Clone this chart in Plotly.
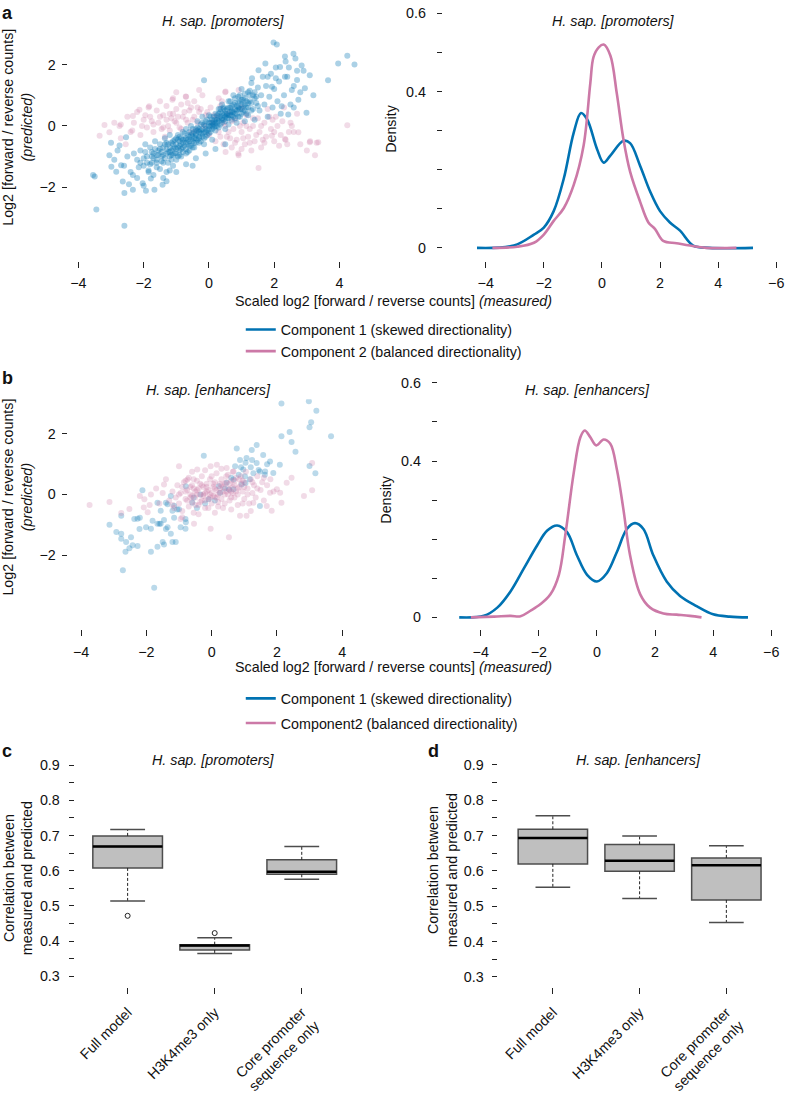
import plotly.graph_objects as go

W, H = 787, 1094
def px(x): return x / W
def py(y): return 1 - y / H

BLUE = "#0072B2"
PINK = "#CC79A7"
FONT = "Liberation Sans, Arial, Helvetica, sans-serif"
TXT = "#111111"
FS = 14.3

# ---------------- data: panel a scatter (promoters) ----------------
prom_blue = [
    (-3.55,-1.6),(-3.5,-1.65),(-3.45,-2.72),(-2.59,-3.25),(-2.59,-2.19),(-2.33,-2.08),(-1.93,-2.11),
    (-1.67,-2.08),(-1.42,-1.92),(-2.03,-1.87),(-2.64,-1.81),(-2.84,-1.49),(-2.99,-1.33),(-3.05,-0.96),
    (-2.69,-1.28),(-2.33,-1.6),(-1.78,-1.71),(-2.74,-0.64),(-2.54,-0.37),(-2.9,-1.1),(-2.8,-0.8),
    (-2.45,-1.9),(-2.2,-1.7),(-2.0,-1.95),(-1.7,-1.6),(-1.3,-1.8),(-1.0,-1.5),(-1.4,-1.7),(-0.7,-1.25),
    (-0.4,-1.05),(-0.1,-0.9),(-0.5,-1.3),(-2.5,-1.0),(-2.4,-1.5),(-2.3,-0.9),(-2.6,-1.3),(-2.15,-1.35),
    (-1.85,-1.45),(-1.6,-1.35),(-1.2,-1.45),(0.2,-0.75),(0.5,-0.6),(-3.0,-0.55),
    (-2.2,-1.1),(-2.1,-0.8),(-2.0,-1.3),(-1.95,-0.6),(-1.9,-1.0),(-1.85,-1.5),(-1.8,-0.7),(-1.75,-1.2),
    (-1.7,-0.9),(-1.65,-0.5),(-1.6,-1.1),(-1.55,-0.8),(-1.5,-1.4),(-1.5,-0.6),(-1.45,-1.0),(-1.4,-0.7),
    (-1.4,-1.2),(-1.35,-0.4),(-1.3,-0.9),(-1.3,-1.5),(-1.25,-0.6),(-1.2,-1.0),(-1.2,-0.3),(-1.15,-0.8),
    (-1.1,-1.3),(-1.1,-0.5),(-1.05,-0.9),(-1.0,-0.6),(-1.0,-1.1),(-0.95,-0.3),(-0.9,-0.8),(-0.9,-0.5),
    (-0.85,-1.0),(-0.8,-0.2),(-0.8,-0.7),(-0.75,-0.45),(-0.7,-0.9),(-0.7,-0.1),(-0.65,-0.6),(-0.6,-0.35),
    (-0.6,-0.8),(-0.55,0.0),(-0.5,-0.5),(-0.5,-0.25),(-0.45,-0.7),(-0.4,-0.1),(-0.4,-0.4),(-0.35,0.15),
    (-0.3,-0.55),(-0.3,-0.2),(-0.25,0.05),(-0.2,-0.35),(-0.2,0.3),(-0.15,-0.6),(-0.1,-0.1),(-0.1,0.15),
    (-0.05,-0.3),(0.0,0.0),(0.0,0.35),(0.05,-0.2),(0.1,0.2),(0.1,-0.45),(0.15,0.05),(0.2,0.4),(0.2,-0.15),
    (0.25,0.2),(0.3,0.55),(0.3,-0.05),(0.35,0.3),(0.4,0.1),(0.4,0.7),(0.45,0.35),(0.5,-0.1),(0.5,0.5),
    (0.55,0.25),(0.6,0.8),(0.6,0.05),(0.65,0.45),(0.7,0.65),(0.7,0.2),(0.75,1.0),(0.8,0.4),(0.8,0.75),
    (0.85,0.1),(0.9,0.55),(0.9,0.95),(0.95,0.3),(1.0,0.7),(1.0,1.2),(1.05,0.45),(1.1,0.9),(1.1,0.15),
    (1.15,0.6),(1.2,1.1),(1.2,0.35),(1.25,0.8),(1.3,1.4),(1.3,0.5),(1.35,1.0),(1.4,0.2),(1.45,0.75),
    (1.5,1.25),(1.55,0.5),(1.6,1.0),(1.65,1.6),(1.7,0.7),(1.75,1.3),(1.8,0.3),(1.85,0.95),(1.9,1.7),
    (1.95,0.6),(2.0,1.2),(2.05,1.9),(2.1,0.8),(2.15,1.45),(2.2,0.4),(2.3,1.0),(2.35,2.1),(2.4,1.6),
    (2.5,0.7),(2.6,1.3),(2.65,2.2),(2.7,1.8),(2.8,1.1),
    (-1.2,-0.7),(-1.0,-0.75),(-0.8,-0.55),(-0.6,-0.5),(-0.4,-0.3),(-0.3,-0.35),(-0.1,-0.2),(0.1,0.0),
    (0.3,0.15),(0.5,0.3),(0.7,0.45),(0.9,0.6),(1.1,0.7),(-0.9,-0.65),(-0.7,-0.4),(-0.5,-0.35),
    (-0.2,-0.1),(0.0,-0.1),(0.2,0.1),(0.4,0.25),(0.6,0.35),(0.8,0.55),(1.0,0.55),(1.2,0.75),
    (-1.1,-0.6),(-1.3,-0.75),(-0.95,-0.45),(-0.25,-0.25),(0.15,0.15),(0.55,0.4),(0.85,0.5),(1.05,0.85),
    (-1.45,-0.85),(-1.15,-0.95),(-0.85,-0.75),(-0.65,-0.3),(-0.45,-0.55),(-0.15,-0.4),(0.05,0.1),
    (0.35,0.45),(0.65,0.6),(0.95,0.8),(1.25,1.0),(1.4,0.9),(-1.6,-0.95),(-1.75,-1.0),(-0.35,-0.15),
    (0.25,0.0),(0.75,0.3),(1.15,0.4),(-0.55,-0.65),(0.45,0.55),
    (-1.6,-1.2),(-1.55,-0.95),(-1.5,-0.75),(-1.45,-1.15),(-1.4,-0.95),(-1.35,-0.6),(-1.35,-1.05),
    (-1.3,-0.55),(-1.25,-0.85),(-1.25,-1.2),(-1.2,-0.85),(-1.15,-0.55),(-1.15,-1.1),(-1.1,-0.75),
    (-1.1,-0.95),(-1.05,-0.45),(-1.05,-0.7),(-1.0,-0.9),(-1.0,-0.4),(-0.95,-0.7),(-0.95,-1.0),
    (-0.9,-0.35),(-0.9,-0.95),(-0.85,-0.6),(-0.85,-0.4),(-0.8,-0.85),(-0.8,-0.45),(-0.75,-0.65),
    (-0.75,-0.25),(-0.7,-0.55),(-0.7,-0.75),(-0.65,-0.45),(-0.65,-0.85),(-0.6,-0.2),(-0.6,-0.65),
    (-0.55,-0.45),(-0.55,-0.3),(-0.5,-0.7),(-0.5,-0.1),(-0.45,-0.4),(-0.45,-0.2),(-0.4,-0.55),
    (-0.4,-0.25),(-0.35,-0.45),(-0.35,-0.05),(-0.3,-0.4),(-0.3,-0.1),(-0.25,-0.5),(-0.25,-0.15),
    (-0.2,-0.25),(-0.2,0.1),(-0.15,-0.2),(-0.15,0.05),(-0.1,-0.35),(-0.1,0.0),(-0.05,-0.15),(-0.05,0.2),
    (0.0,-0.25),(0.0,0.1),(0.05,0.0),(0.05,0.3),(0.1,-0.1),(0.1,0.1),(0.15,0.3),(0.15,-0.05),(0.2,0.2),
    (0.2,0.0),(0.25,0.35),(0.25,0.1),(0.3,0.25),(0.3,0.4),(0.35,0.05),(0.35,0.55),(0.4,0.4),(0.4,0.2),
    (0.45,0.6),(0.45,0.2),(0.5,0.4),(0.5,0.15),(0.55,0.55),(0.55,0.35),(0.6,0.25),(0.6,0.6),(0.65,0.35),
    (0.65,0.8),(0.7,0.5),(0.7,0.35),(0.75,0.7),(0.75,0.45),(0.8,0.25),(0.8,0.9),(0.85,0.65),(0.85,0.4),
    (0.9,0.75),(0.9,0.3),(0.95,0.55),(0.95,1.0),(1.0,0.85),(1.0,0.4),(1.05,0.65),(1.1,1.05),(1.1,0.5),
    (1.15,0.8),(1.2,0.6),(1.25,1.15),(1.3,0.75),(1.35,0.55),(1.4,1.1),(1.45,0.95),(1.5,0.65),
    (-1.8,-1.25),(-1.7,-1.05),(-1.65,-0.75),(-1.9,-1.2),(-2.0,-1.05),(-1.75,-0.85),(-2.1,-1.2),(-1.95,-0.85),
    (1.98,2.72),(2.08,2.65),(2.33,2.26),(2.59,2.35),(2.84,1.97),(3.09,1.65),(3.96,2.03),(4.24,2.29),
    (4.46,2.0),(3.65,1.49),(2.94,1.23),(2.74,0.85),(2.99,0.43),(2.43,0.37),(2.23,0.64),(2.54,1.17),
    (2.33,1.6),(2.18,1.92),(1.73,2.03),(1.52,1.81),(1.32,1.55),(1.93,1.28),(-0.15,1.49),(2.7,1.5),
    (2.45,1.9),(2.05,1.55),(1.8,1.6),(2.6,0.6),(3.2,1.0),(2.9,1.8),
]
prom_pink = [
    (-3.35,-0.32),(-3.2,0.03),(-3.05,-0.21),(-2.74,0.0),(-2.33,0.32),(-2.13,0.53),(-1.83,0.64),
    (-1.12,0.85),(-0.71,0.96),(-0.3,1.17),(0.51,1.12),(0.91,1.17),(4.24,0.02),(3.25,-0.96),(3.35,-0.53),
    (3.09,-0.53),(2.54,0.0),(2.74,-0.21),(2.33,-0.43),(1.93,-0.32),(1.52,-1.37),(0.91,-0.96),(0.51,-0.85),
    (-2.9,0.1),(-2.7,-0.4),(-2.7,0.05),(-2.5,0.3),(-2.4,-0.2),(-2.3,0.1),(-2.2,0.45),(-2.1,-0.3),
    (-2.0,0.2),(-1.9,-0.05),(-1.85,0.6),(-1.8,0.3),(-1.7,-0.2),(-1.6,0.5),(-1.55,0.1),(-1.5,0.8),
    (-1.45,-0.1),(-1.4,0.35),(-1.3,0.65),(-1.25,0.0),(-1.2,0.4),(-1.1,0.9),(-1.05,0.15),(-1.0,0.55),
    (-0.9,-0.05),(-0.85,0.7),(-0.8,0.3),(-0.7,0.95),(-0.65,0.1),(-0.6,0.5),(-0.5,0.2),(-0.45,0.8),
    (-0.4,-0.15),(-0.3,0.45),(-0.2,1.0),(-0.15,0.0),(-0.1,0.35),(0.0,-0.3),(0.05,0.6),(0.1,0.1),
    (0.2,-0.5),(0.25,0.3),(0.3,-0.2),(0.4,0.8),(0.45,-0.6),(0.5,0.0),(0.55,-0.35),(0.6,0.4),(0.7,-0.7),
    (0.75,-0.1),(0.8,0.2),(0.85,-0.45),(0.9,-0.9),(1.0,-0.2),(1.05,0.1),(1.1,-0.6),(1.15,0.35),
    (1.2,-0.35),(1.3,-0.8),(1.35,0.0),(1.4,-0.5),(1.5,0.25),(1.55,-0.2),(1.6,-0.7),(1.7,0.1),
    (1.75,-0.35),(1.8,0.55),(1.9,-0.1),(2.0,-0.5),(2.05,0.3),(2.1,0.0),(2.2,-0.3),(2.3,0.6),
    (2.35,-0.45),(2.5,0.1),(2.6,-0.2),(2.7,0.4),(2.8,-0.6),(3.0,-0.8),(3.1,-0.5),(3.3,-0.55),
    (-1.0,1.1),(0.5,1.1),(-2.55,-0.6),(-1.35,-0.35),(-0.55,-0.2),(0.65,-0.4),(1.25,-0.1),(1.65,-0.45),
    (2.15,-0.65),(-1.75,0.15),(-1.15,0.25),(-0.35,0.6),(0.35,0.65),(1.95,0.2),(2.45,-0.2),(1.0,-0.75),
    (-1.7,0.05),(-1.5,0.3),(-1.4,-0.05),(-1.3,0.2),(-1.2,-0.15),(-1.1,0.4),(-1.0,0.1),(-0.95,0.3),
    (-0.85,-0.1),(-0.75,0.45),(-0.7,0.2),(-0.55,0.6),(-0.45,0.3),(-0.35,0.1),(-0.25,0.55),(-0.05,0.45),
    (0.15,0.35),(0.35,-0.35),(0.45,0.1),(0.6,-0.2),(0.7,0.15),(0.8,-0.55),(0.95,0.0),(1.05,-0.4),
    (1.15,0.0),(1.25,-0.55),(1.35,0.25),(1.45,-0.3),(1.6,0.0),(1.7,-0.55),(1.85,0.3),(2.0,-0.2),
    (2.25,0.15),(2.4,-0.6),(-2.05,0.0),(-2.35,-0.15),(-1.95,0.35),(1.0,0.6),(0.3,0.9),(-0.65,0.75),
]

# ---------------- data: panel b scatter (enhancers) ----------------
enh_blue = [
    (-2.12,0.14),(-2.77,-0.70),(-3.13,-1.0),(-2.2,-0.77),(-2.27,-0.8),(-1.81,-0.87),(-1.86,-1.13),
    (-1.66,-0.97),(-1.56,-0.97),(-1.46,-0.84),(-1.35,-1.08),(-1.25,-1.3),(-1.15,-0.77),(-1.05,-0.5),
    (-1.56,-0.54),(-1.66,-0.27),(-1.35,-0.32),(-1.15,-0.37),(-1.25,-0.05),(-0.8,-0.81),(-0.8,-1.13),
    (-0.95,-1.08),(-1.1,-1.57),(-1.46,-1.65),(-1.66,-1.73),(-1.86,-1.89),(-2.27,-1.7),(-2.52,-1.78),
    (-2.47,-1.41),(-2.77,-1.3),(-2.77,-1.46),(-2.42,-1.68),(-2.72,-2.5),(-1.76,-3.08),(-0.55,-0.1),
    (-0.34,0.0),(-0.09,-0.16),(0.26,0.06),(0.67,0.17),(0.72,0.93),(0.77,1.52),(0.97,0.82),(1.17,0.5),
    (1.38,1.04),(1.58,1.3),(1.79,1.09),(1.89,0.71),(2.09,0.98),(2.14,1.92),(2.39,2.06),(2.57,1.41),
    (2.45,1.73),(3.0,2.22),(3.05,2.38),(2.14,3.0),(2.98,3.08),(3.21,2.76),(3.66,1.92),(3.0,0.94),
    (3.18,0.7),(1.38,1.63),(1.23,1.47),(1.07,1.2),(0.87,1.14),(-0.24,1.28),(1.48,0.76),(0.92,0.33),
    (1.48,-0.38),(0.67,0.49),(0.46,0.39),(1.63,0.65),(1.28,0.7),(1.02,0.6),(-0.79,0.27),(-0.59,-0.27),
    (-1.0,-0.49),(-1.2,-0.54),(-1.4,-0.27),(-2.37,-0.81),(-2.92,-1.24),(-2.62,-1.57),(-2.64,-1.89),
    (-1.5,-1.57),(-1.2,-1.57),(-1.4,-1.14),(-1.6,-0.97),(-2.01,-1.08),(-2.21,-1.14),(-0.79,-0.92),
    (0.53,0.16),(0.22,0.27),(0.83,0.65),(1.04,0.38),(1.64,0.76),(1.44,0.81),(1.24,1.14),(1.04,1.05),
    (-0.2,-0.3),(0.1,-0.2),(0.4,0.2),(-0.45,-0.45),(0.6,0.55),(1.2,0.9),(1.7,1.0),(0.9,0.9),
]
enh_pink = [
    (-3.74,-0.35),(-3.13,-0.25),(-2.77,-0.61),(-2.2,-0.05),(-2.08,-0.43),(-1.46,0.33),(-1.0,0.93),
    (-0.03,-1.13),(0.53,-1.41),(0.87,-0.7),(1.07,-0.7),(1.84,-0.54),(2.14,-0.27),(2.83,-0.05),
    (3.08,0.14),(3.08,1.04),(2.45,0.55),(2.3,0.39),(2.1,0.06),(2.0,0.17),(1.79,0.06),(-0.03,0.93),
    (-0.44,0.82),(0.46,0.87),(0.16,0.98),(0.67,0.76),(-0.74,0.49),(-1.86,0.0),(-2.06,-0.16),
    (-2.52,-0.48),(-1.96,-0.59),(-0.54,-0.97),(-0.95,-0.81),(1.69,-0.38),(1.28,-0.27),
    (-1.3,-0.2),(-1.2,0.1),(-1.15,-0.45),(-1.1,-0.1),(-1.05,0.3),(-1.0,-0.3),(-0.95,0.05),(-0.9,-0.55),
    (-0.85,0.4),(-0.8,-0.15),(-0.75,0.15),(-0.7,-0.4),(-0.7,0.55),(-0.65,0.0),(-0.6,-0.25),(-0.6,0.3),
    (-0.55,-0.6),(-0.5,0.1),(-0.5,-0.1),(-0.45,0.45),(-0.4,-0.35),(-0.4,0.2),(-0.35,0.0),(-0.3,-0.2),
    (-0.3,0.6),(-0.25,0.25),(-0.2,-0.45),(-0.2,0.05),(-0.15,0.35),(-0.1,-0.15),(-0.1,0.15),(-0.05,0.5),
    (0.0,-0.3),(0.0,0.05),(0.05,0.25),(0.1,-0.1),(0.1,0.4),(0.15,0.7),(0.2,0.0),(0.2,-0.4),(0.25,0.2),
    (0.3,0.5),(0.3,-0.15),(0.35,0.1),(0.4,0.35),(0.4,-0.3),(0.45,0.6),(0.5,0.0),(0.5,0.2),(0.55,-0.2),
    (0.6,0.45),(0.6,0.1),(0.65,0.75),(0.7,-0.1),(0.7,0.3),(0.75,0.55),(0.8,0.0),(0.8,-0.35),(0.85,0.25),
    (0.9,0.6),(0.95,0.1),(1.0,-0.15),(1.0,0.4),(1.05,0.75),(1.1,0.2),(1.15,-0.3),(1.2,0.5),(1.25,0.05),
    (1.3,0.3),(1.35,-0.1),(1.4,0.6),(1.5,0.15),(1.55,0.4),(1.6,-0.2),(1.7,0.3),(1.8,0.5),(1.9,0.1),
    (-0.6,0.75),(-0.2,0.8),(0.3,0.85),(-1.4,0.5),(-1.6,-0.3),(-1.5,0.05),(-1.7,0.2),(-1.9,-0.35),
    (-0.9,-0.75),(-0.4,-0.65),(0.1,-0.6),(0.6,-0.5),(1.2,-0.55),(-0.25,-0.05),(0.15,0.15),(-0.55,0.2),
    (0.45,0.1),(-0.05,-0.1),(0.25,0.35),(-0.8,0.1),(0.9,0.35),(-0.35,0.35),(0.65,0.25),
    (-0.15,0.1),(0.05,-0.05),(0.35,0.25),(-0.45,0.0),(0.55,0.35),(-0.65,-0.1),(0.75,0.1),(0.95,0.45),
    (-0.75,-0.2),(-0.65,0.25),(-0.5,-0.35),(-0.45,0.15),(-0.35,-0.25),(-0.3,0.3),(-0.2,-0.2),(-0.15,0.25),
    (-0.05,0.0),(0.05,0.35),(0.1,0.2),(0.2,-0.25),(0.25,0.05),(0.3,0.3),(0.4,0.0),(0.45,0.4),(0.55,0.15),
    (0.6,-0.1),(0.7,0.45),(0.8,0.2),(0.85,0.5),(1.0,0.25),(1.1,0.0),(1.25,0.4),(1.4,0.2),(-1.0,0.0),
    (-0.9,0.25),(-1.2,-0.35),(-0.55,0.5),(0.0,0.6),(0.5,0.65),(-0.1,-0.45),(0.35,-0.45),(-0.8,0.45),
    (1.6,0.55),(-0.25,0.0),(0.15,-0.1),(0.65,0.05),(-0.6,-0.05),(0.95,-0.3),
]

# ---------------- data: density curves ----------------
dens_a_blue_x = [-4.3,-3.03,-2.34,-2.0,-1.66,-1.31,-0.97,-0.72,-0.51,-0.17,0.06,0.29,0.74,0.97,1.31,1.66,2.0,2.34,2.69,3.14,3.7,5.2]
dens_a_blue_y = [0.0,0.006,0.034,0.052,0.094,0.178,0.295,0.345,0.329,0.253,0.218,0.236,0.274,0.268,0.211,0.144,0.094,0.065,0.044,0.006,0.0,0.0]
dens_a_pink_x = [-3.77,-2.91,-2.34,-2.0,-1.66,-1.31,-0.97,-0.63,-0.4,-0.29,-0.11,0.06,0.29,0.51,0.74,0.97,1.31,1.6,1.83,2.11,2.57,3.03,3.6,4.63]
dens_a_pink_y = [0.0,0.003,0.013,0.034,0.069,0.102,0.161,0.262,0.421,0.488,0.513,0.52,0.492,0.396,0.278,0.195,0.119,0.065,0.048,0.018,0.012,0.006,0.0,0.0]
dens_b_blue_x = [-4.74,-3.89,-3.43,-2.97,-2.51,-2.06,-1.71,-1.37,-1.03,-0.69,-0.34,0.0,0.34,0.69,1.03,1.31,1.6,1.94,2.4,2.86,3.43,4.0,4.57,5.2]
dens_b_blue_y = [0.0,0.004,0.025,0.067,0.126,0.184,0.222,0.235,0.218,0.159,0.109,0.092,0.113,0.168,0.226,0.241,0.226,0.159,0.092,0.055,0.029,0.008,0.002,0.0]
dens_b_pink_x = [-4.34,-3.54,-2.97,-2.63,-2.29,-1.94,-1.6,-1.31,-1.09,-0.8,-0.57,-0.42,-0.23,-0.02,0.23,0.46,0.69,0.91,1.14,1.49,1.83,2.29,2.74,3.2,3.6]
dens_b_pink_y = [0.0,0.002,0.004,0.003,0.017,0.034,0.059,0.109,0.21,0.369,0.461,0.478,0.461,0.44,0.455,0.444,0.377,0.277,0.159,0.059,0.025,0.01,0.007,0.004,0.0]

# ---------------- data: box plots ----------------
box_categories = ["Full model", "H3K4me3 only", "Core promoter<br>sequence only"]
c_lower = [0.514, 0.365, 0.576]
c_q1 = [0.608, 0.375, 0.590]
c_median = [0.669, 0.388, 0.597]
c_q3 = [0.699, 0.390, 0.631]
c_upper = [0.717, 0.410, 0.669]
c_outlier_cat = [1, 2]
c_outlier_val = [0.472, 0.423]
d_lower = [0.554, 0.522, 0.454]
d_q1 = [0.620, 0.599, 0.518]
d_median = [0.693, 0.629, 0.616]
d_q3 = [0.718, 0.675, 0.637]
d_upper = [0.756, 0.699, 0.671]

legend_a = ["Component 1 (skewed directionality)", "Component 2 (balanced directionality)"]
legend_b = ["Component 1 (skewed directionality)", "Component2 (balanced directionality)"]

fig = go.Figure()

def scatter_pts(pts, color, xa, ya, op):
    fig.add_trace(go.Scatter(
        x=[p[0] for p in pts], y=[p[1] for p in pts], mode="markers",
        marker=dict(color=color, size=6, opacity=op, line=dict(width=0)),
        xaxis=xa, yaxis=ya, showlegend=False, hoverinfo="skip"))

scatter_pts(prom_pink, PINK, "x", "y", 0.27)
scatter_pts(prom_blue, BLUE, "x", "y", 0.33)
scatter_pts(enh_blue, BLUE, "x3", "y3", 0.27)
scatter_pts(enh_pink, PINK, "x3", "y3", 0.27)

def dens(xs, ys, color, name, xa, ya, lg, grp):
    fig.add_trace(go.Scatter(x=xs, y=ys, mode="lines", name=name,
                             line=dict(color=color, width=2.6, shape="spline", smoothing=1.0),
                             xaxis=xa, yaxis=ya, legend=lg, legendgroup=grp, hoverinfo="skip"))

dens(dens_a_blue_x, dens_a_blue_y, BLUE, legend_a[0], "x2", "y2", "legend", "a1")
dens(dens_a_pink_x, dens_a_pink_y, PINK, legend_a[1], "x2", "y2", "legend", "a2")
dens(dens_b_blue_x, dens_b_blue_y, BLUE, legend_b[0], "x4", "y4", "legend2", "b1")
dens(dens_b_pink_x, dens_b_pink_y, PINK, legend_b[1], "x4", "y4", "legend2", "b2")

HALF = 0.4
def boxes(lower, q1, med, q3, upper, xa, ya):
    pos = [i + 1 for i in range(len(med))]
    fig.add_trace(go.Box(x=pos, q1=q1, median=med, q3=q3, lowerfence=q1, upperfence=q3,
                         width=2 * HALF, fillcolor="#bfbfbf", line=dict(color="#4d4d4d", width=1.5),
                         boxpoints=False, whiskerwidth=0, xaxis=xa, yaxis=ya,
                         showlegend=False, hoverinfo="skip"))
    wx, wy, cx, cy, mx, my = [], [], [], [], [], []
    for p, lo, a, m, b, hi in zip(pos, lower, q1, med, q3, upper):
        wx += [p, p, None, p, p, None]
        wy += [b, hi, None, a, lo, None]
        cx += [p - HALF / 2, p + HALF / 2, None, p - HALF / 2, p + HALF / 2, None]
        cy += [hi, hi, None, lo, lo, None]
        mx += [p - HALF, p + HALF, None]
        my += [m, m, None]
    fig.add_trace(go.Scatter(x=wx, y=wy, mode="lines", line=dict(color="#222", width=1, dash="3px,2px"),
                             xaxis=xa, yaxis=ya, showlegend=False, hoverinfo="skip"))
    fig.add_trace(go.Scatter(x=cx, y=cy, mode="lines", line=dict(color="#4d4d4d", width=1.5),
                             xaxis=xa, yaxis=ya, showlegend=False, hoverinfo="skip"))
    fig.add_trace(go.Scatter(x=mx, y=my, mode="lines", line=dict(color="#000", width=2.5),
                             xaxis=xa, yaxis=ya, showlegend=False, hoverinfo="skip"))

boxes(c_lower, c_q1, c_median, c_q3, c_upper, "x5", "y5")
fig.add_trace(go.Scatter(x=c_outlier_cat, y=c_outlier_val, mode="markers",
                         marker=dict(symbol="circle-open", size=5, color="#222", line=dict(width=1)),
                         xaxis="x5", yaxis="y5", showlegend=False, hoverinfo="skip"))
boxes(d_lower, d_q1, d_median, d_q3, d_upper, "x6", "y6")

def ax(domain, rng, tickvals, ticktext=None, ticklen=5, anchor=None, angle=None, standoff=2):
    d = dict(domain=domain, range=rng, tickvals=tickvals, showgrid=False, zeroline=False,
             showline=False, ticks="outside", ticklen=ticklen, tickwidth=1, tickcolor="#222",
             tickfont=dict(size=FS, color=TXT, family=FONT), fixedrange=True,
             ticklabelstandoff=standoff, ticklabeloverflow="allow")
    if ticktext is not None:
        d["ticktext"] = ticktext
    if anchor:
        d["anchor"] = anchor
    if angle is not None:
        d["tickangle"] = angle
    return d

dens_ticks = [0, 0.1, 0.2, 0.3, 0.4, 0.5, 0.6]
dens_text = ["0", "", "", "", "0.4", "", "0.6"]
box_ticks = [0.3, 0.35, 0.4, 0.45, 0.5, 0.55, 0.6, 0.65, 0.7, 0.75, 0.8, 0.85, 0.9]
box_text = ["0.3", "", "0.4", "", "0.5", "", "0.6", "", "0.7", "", "0.8", "", "0.9"]
dens_xt = [-4, -2, 0, 2, 4, 6]
dens_xtext = ["\u22124", "\u22122", "0", "2", "4", "\u22126"]

layout = dict(
    width=W, height=H, autosize=False, margin=dict(l=0, r=0, t=0, b=0),
    paper_bgcolor="white", plot_bgcolor="white",
    font=dict(family=FONT, size=FS, color=TXT),
    xaxis=ax([px(68), px(370)], [-4.329, 4.878], [-4, -2, 0, 2, 4], ticklen=6, anchor="y", standoff=3),
    yaxis=ax([py(264), py(30)], [-4.391, 3.109], [-2, 0, 2], anchor="x", standoff=3),
    xaxis2=ax([px(445), px(784)], [-5.479, 6.13], dens_xt, dens_xtext, ticklen=6, anchor="y2", standoff=3),
    yaxis2=ax([py(264), py(5)], [-0.0327, 0.6189], dens_ticks, dens_text, anchor="x2", standoff=8),
    xaxis3=ax([px(68), px(370)], [-4.412, 4.796], [-4, -2, 0, 2, 4], ticklen=6, anchor="y3", standoff=3),
    yaxis3=ax([py(639), py(405)], [-4.458, 3.14], [-2, 0, 2], anchor="x3", standoff=3),
    xaxis4=ax([px(440), px(785)], [-5.479, 6.336], dens_xt, dens_xtext, ticklen=6, anchor="y4", standoff=3),
    yaxis4=ax([py(639), py(380)], [-0.0309, 0.6206], dens_ticks, dens_text, anchor="x4", standoff=8),
    xaxis5=ax([px(75), px(360)], [0.391, 3.648], [1, 2, 3], box_categories, ticklen=6, anchor="y5", angle=-45, standoff=4),
    yaxis5=ax([py(1003), py(770)], [0.2684, 0.9193], box_ticks, box_text, anchor="x5", standoff=6),
    xaxis6=ax([px(501), px(785)], [0.373, 3.63], [1, 2, 3], box_categories, ticklen=6, anchor="y6", angle=-45, standoff=4),
    yaxis6=ax([py(1003), py(770)], [0.2702, 0.9187], box_ticks, box_text, anchor="x6", standoff=6),
    legend=dict(x=px(242), y=py(318), xanchor="left", yanchor="top", bgcolor="rgba(0,0,0,0)",
                font=dict(size=FS, color=TXT, family=FONT), itemwidth=30, tracegroupgap=0),
    legend2=dict(x=px(242), y=py(693), xanchor="left", yanchor="top", bgcolor="rgba(0,0,0,0)",
                 font=dict(size=FS, color=TXT, family=FONT), itemwidth=30, tracegroupgap=3),
    showlegend=True,
)
fig.update_layout(**layout)

def note(text, x, y, size=FS, angle=0, xanchor="center", yanchor="middle"):
    fig.add_annotation(text=text, x=px(x), y=py(y), xref="paper", yref="paper",
                       showarrow=False, textangle=angle, xanchor=xanchor, yanchor=yanchor,
                       font=dict(size=size, color=TXT, family=FONT))

# panel letters
note("<b>a</b>", 0, 0, size=18, xanchor="left", yanchor="top")
note("<b>b</b>", 0, 383, size=18, xanchor="left")
note("<b>c</b>", 0, 763, size=18, xanchor="left")
note("<b>d</b>", 428, 763, size=18, xanchor="left")
# titles
note("<i>H. sap. [promoters]</i>", 225, 20)
note("<i>H. sap. [promoters]</i>", 617, 20)
note("<i>H. sap. [enhancers]</i>", 210, 395)
note("<i>H. sap. [enhancers]</i>", 590, 395)
note("<i>H. sap. [promoters]</i>", 215, 772)
note("<i>H. sap. [enhancers]</i>", 642, 772)
# axis titles
note("Log2 [forward / reverse counts]<br><i>(predicted)</i>", 18, 128, angle=-90)
note("Log2 [forward / reverse counts]<br><i>(predicted)</i>", 18, 504, angle=-90)
note("Density", 393, 130, angle=-90)
note("Density", 388, 507, angle=-90)
note("Scaled log2 [forward / reverse counts] <i>(measured)</i>", 396, 305)
note("Scaled log2 [forward / reverse counts] <i>(measured)</i>", 396, 677)
note("Correlation between<br>measured and predicted", 18, 892, angle=-90)
note("Correlation between<br>measured and predicted", 445, 884, angle=-90)

fig.write_html("out.html", config={"displayModeBar": False},
               post_script="document.body.style.margin='0px';")
